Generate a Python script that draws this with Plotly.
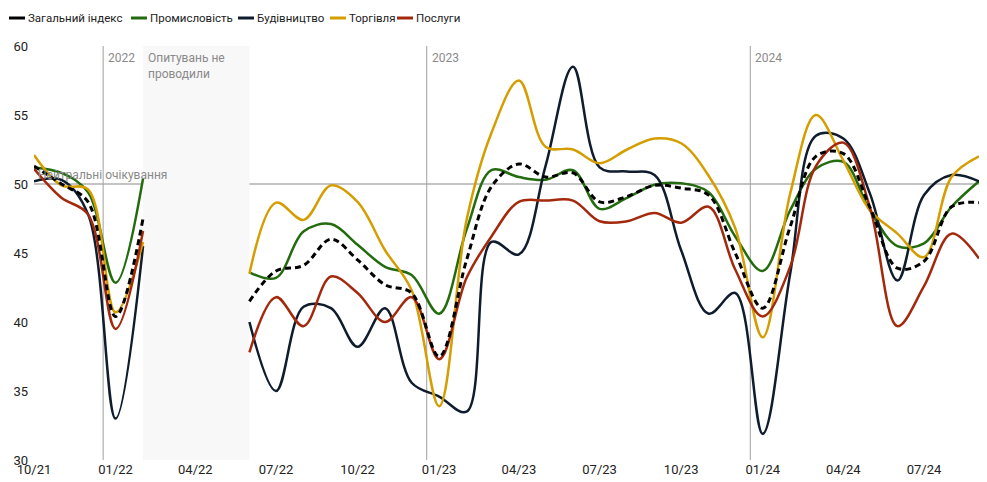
import plotly.graph_objects as go
import pandas as pd

months = pd.date_range("2021-10-01", periods=36, freq="MS") + pd.Timedelta(days=14)
N = None

index_vals = [51.3, 50.0, 48.7, 40.4, 47.5, N, N, N, 41.5, 43.7, 44.1, 46.0, 44.5, 42.7, 42.1, 37.5,
              44.5, 49.8, 51.45, 50.5, 50.8, 48.7, 49.1, 49.9, 49.7, 49.2, 45.0, 41.0, 46.9, 52.0,
              52.2, 48.3, 43.9, 44.4, 48.35, 48.65]
industry = [51.2, 50.8, 49.4, 42.85, 50.4, N, N, N, 43.6, 43.2, 46.55, 47.1, 45.6, 44.0, 43.4, 40.6,
            46.7, 51.0, 50.5, 50.3, 51.0, 48.2, 49.0, 49.95, 50.05, 49.4, 46.2, 43.7, 48.1, 51.1,
            51.6, 48.1, 45.5, 45.7, 48.35, 50.2]
construction = [50.2, 50.3, 47.8, 33.0, 45.5, N, N, N, 40.0, 35.0, 41.1, 41.0, 38.2, 41.0, 35.6, 34.6,
                33.5, 45.8, 44.9, 51.3, 58.5, 51.2, 50.9, 50.65, 45.2, 40.6, 42.1, 31.9, 43.5, 53.5,
                53.3, 49.3, 43.0, 49.2, 50.65, 50.2]
trade = [52.1, 49.9, 49.6, 40.7, 45.8, N, N, N, 43.5, 48.65, 47.4, 49.9, 48.7, 45.2, 42.3, 33.9,
         47.4, 53.7, 57.5, 52.7, 52.5, 51.5, 52.5, 53.3, 52.95, 50.6, 46.8, 38.9, 49.3, 55.0,
         51.7, 48.1, 46.4, 44.7, 50.5, 52.0]
services = [51.1, 49.0, 47.8, 39.5, 46.6, N, N, N, 37.8, 41.8, 39.7, 43.3, 42.1, 40.0, 41.8, 37.3,
            43.2, 46.2, 48.7, 48.8, 48.8, 47.3, 47.3, 47.9, 47.2, 48.35, 43.8, 40.4, 44.0, 51.3,
            53.0, 48.3, 39.7, 42.6, 46.4, 44.6]

names = ["Загальний індекс", "Промисловість", "Будівництво", "Торгівля", "Послуги"]
colors = ["#000000", "#236b0e", "#0f1c2e", "#d49e00", "#a3290d"]

tick_labels = ["10/21", "01/22", "04/22", "07/22", "10/22", "01/23", "04/23", "07/23",
               "10/23", "01/24", "04/24", "07/24"]
tick_vals = [months[i] for i in range(0, 36, 3)]

# figure geometry (page is offset by the 8px body margin)
FIG_W, FIG_H = 979, 474
ML, MR, MT, MB = 26, 8, 38, 22
PLOT_W = FIG_W - ML - MR
PLOT_H = FIG_H - MT - MB


def paper_x(fig_px):
    return (fig_px - ML) / PLOT_W


def paper_y(fig_py):
    return (FIG_H - MB - fig_py) / PLOT_H


fig = go.Figure()

series = [industry, construction, trade, services]
for n, c, s in zip(names[1:], colors[1:], series):
    fig.add_trace(go.Scatter(x=months, y=s, mode="lines", name=n, showlegend=False,
                             line=dict(color=c, width=2.5, shape="spline", smoothing=1),
                             connectgaps=False))
fig.add_trace(go.Scatter(x=months, y=index_vals, mode="lines", name=names[0], showlegend=False,
                         line=dict(color=colors[0], width=3, dash="6px,4px", shape="spline", smoothing=1),
                         connectgaps=False))

shapes = [
    dict(type="rect", xref="x", yref="y", x0=months[4], x1=months[8], y0=30, y1=60,
         fillcolor="#f8f8f8", line=dict(width=0), layer="below"),
    dict(type="line", xref="paper", yref="y", x0=0, x1=1, y0=50, y1=50,
         line=dict(color="#b0b0b0", width=1.5), layer="below"),
]
for yr in ["2022-01-01", "2023-01-01", "2024-01-01"]:
    shapes.append(dict(type="line", xref="x", yref="y", x0=yr, x1=yr, y0=30, y1=60,
                       line=dict(color="#a0a0a0", width=1), layer="below"))

ann_font = dict(family="Roboto", size=12, color="#8a8a8a")
annotations = [
    dict(x="2022-01-01", y=60, xref="x", yref="y", text="2022", showarrow=False,
         xanchor="left", yanchor="top", xshift=3, yshift=-3, font=ann_font),
    dict(x="2023-01-01", y=60, xref="x", yref="y", text="2023", showarrow=False,
         xanchor="left", yanchor="top", xshift=3, yshift=-3, font=ann_font),
    dict(x="2024-01-01", y=60, xref="x", yref="y", text="2024", showarrow=False,
         xanchor="left", yanchor="top", xshift=3, yshift=-3, font=ann_font),
    dict(x=months[4], y=60, xref="x", yref="y", text="Опитувань не<br>проводили", showarrow=False,
         xanchor="left", yanchor="top", align="left", xshift=3, yshift=-3, font=ann_font),
    dict(x=months[0], y=50, xref="x", yref="y", text="Нейтральні очікування", showarrow=False,
         xanchor="left", yanchor="bottom", xshift=2, yshift=0, font=ann_font),
]

# custom legend (short solid line samples, as in the reference)
legend_x = [1, 123, 230, 322, 389]   # figure px where each legend sample starts
legend_y = 10                         # figure px (centre of legend row)
for lx, n, c in zip(legend_x, names, colors):
    shapes.append(dict(type="line", xref="paper", yref="paper",
                       x0=paper_x(lx), x1=paper_x(lx + 16), y0=paper_y(legend_y), y1=paper_y(legend_y),
                       line=dict(color=c, width=3)))
    annotations.append(dict(x=paper_x(lx + 17), y=paper_y(legend_y), xref="paper", yref="paper",
                            text=n, showarrow=False, xanchor="left", yanchor="middle",
                            font=dict(family="Roboto", size=11.5, color="#222222")))

fig.update_layout(
    width=FIG_W, height=FIG_H,
    margin=dict(l=ML, r=MR, t=MT, b=MB, autoexpand=False),
    paper_bgcolor="white", plot_bgcolor="white",
    font=dict(family="Roboto", size=12, color="#222222"),
    shapes=shapes, annotations=annotations,
    showlegend=False,
    xaxis=dict(type="date", range=[months[0], months[-1]], tickvals=tick_vals, ticktext=tick_labels,
               showgrid=False, zeroline=False, showline=False, ticks="",
               tickfont=dict(size=13, color="#222222")),
    yaxis=dict(range=[30, 60], tickvals=[30, 35, 40, 45, 50, 55, 60], showgrid=False,
               zeroline=False, showline=False, ticks="", ticklabelstandoff=5,
               tickfont=dict(size=13, color="#222222")),
)

fig.write_html("out.html")
